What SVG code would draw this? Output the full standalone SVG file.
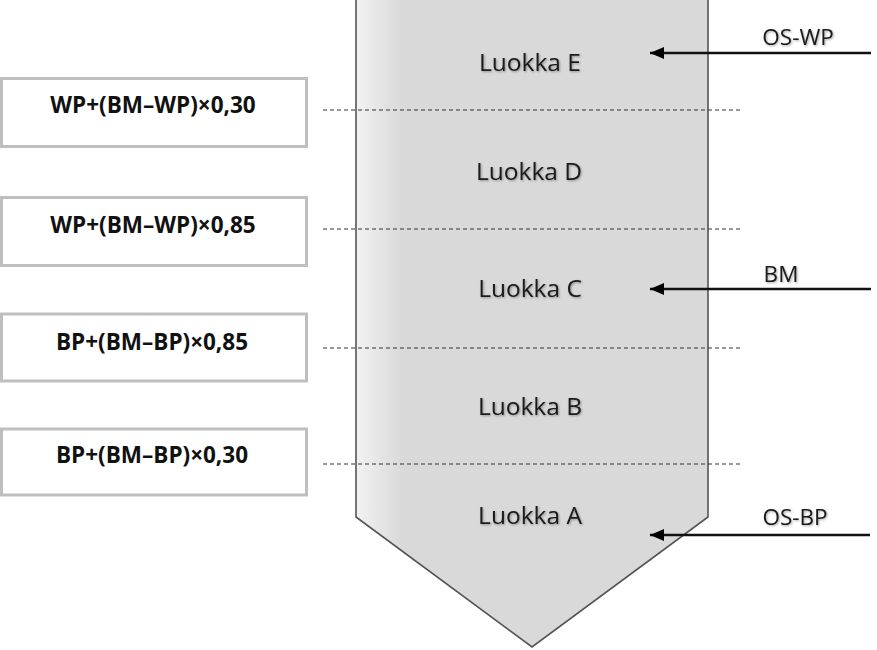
<svg xmlns="http://www.w3.org/2000/svg" width="877" height="650" viewBox="0 0 877 650">
<defs>
<linearGradient id="g" gradientUnits="userSpaceOnUse" x1="356" y1="0" x2="402" y2="0">
<stop offset="0" stop-color="#f2f2f2"/>
<stop offset="1" stop-color="#d9d9d9"/>
</linearGradient>
<filter id="sh" x="-10%" y="-30%" width="120%" height="160%">
<feDropShadow dx="1" dy="1" stdDeviation="0.8" flood-color="#000" flood-opacity="0.35"/>
</filter>
<marker id="ah" markerUnits="userSpaceOnUse" markerWidth="15" markerHeight="12" refX="14" refY="6" orient="auto">
<path d="M0,0 L14,6 L0,12 Z" fill="#000"/>
</marker>
</defs>
<style>
.box{fill:#fff;stroke:#bfbfbf;stroke-width:3}
.bt{font-family:"Open Sans","Liberation Sans",sans-serif;font-weight:bold;font-size:22.5px;fill:#111;text-anchor:middle}
.cls{font-family:"Open Sans","Liberation Sans",sans-serif;font-size:24.5px;fill:#1a1a1a;text-anchor:middle}
.lab{font-family:"Open Sans","Liberation Sans",sans-serif;font-size:22.5px;fill:#1a1a1a;text-anchor:middle}
.dash{stroke:#333;stroke-width:1.2;stroke-dasharray:4 3;fill:none}
.arr{stroke:#111;stroke-width:2.4;fill:none}
</style>
<g id="shape">
<path d="M356,-1 L356,517 L532,647 L708,517 L708,-1" fill="url(#g)" stroke="#555" stroke-width="1.6"/>
</g>
<g id="classes" filter="url(#sh)">
<text class="cls" x="530" y="71">Luokka E</text>
<text class="cls" x="529" y="180">Luokka D</text>
<text class="cls" x="530" y="297">Luokka C</text>
<text class="cls" x="530" y="415">Luokka B</text>
<text class="cls" x="530" y="524">Luokka A</text>
</g>
<g id="box1"><rect class="box" x="1.5" y="78.5" width="305" height="68"/><text class="bt" x="153" y="113">WP+(BM–WP)×0,30</text></g>
<g id="box2"><rect class="box" x="1.5" y="197.5" width="305" height="68"/><text class="bt" x="153" y="233">WP+(BM–WP)×0,85</text></g>
<g id="box3"><rect class="box" x="1.5" y="314" width="305" height="67"/><text class="bt" x="152" y="350">BP+(BM–BP)×0,85</text></g>
<g id="box4"><rect class="box" x="1.5" y="429" width="305" height="66"/><text class="bt" x="152" y="463">BP+(BM–BP)×0,30</text></g>
<g id="connectors">
<line class="dash" x1="323" y1="110" x2="742" y2="110"/>
<line class="dash" x1="323" y1="229" x2="742" y2="229"/>
<line class="dash" x1="323" y1="348" x2="742" y2="348"/>
<line class="dash" x1="323" y1="464" x2="742" y2="464"/>
<line class="arr" x1="871" y1="53" x2="650" y2="53" marker-end="url(#ah)"/>
<line class="arr" x1="871" y1="289" x2="650" y2="289" marker-end="url(#ah)"/>
<line class="arr" x1="870" y1="535" x2="650" y2="535" marker-end="url(#ah)"/>
</g>
<g id="labels" filter="url(#sh)">
<text class="lab" x="798" y="45">OS-WP</text>
<text class="lab" x="781" y="282">BM</text>
<text class="lab" x="795" y="525">OS-BP</text>
</g>
</svg>
